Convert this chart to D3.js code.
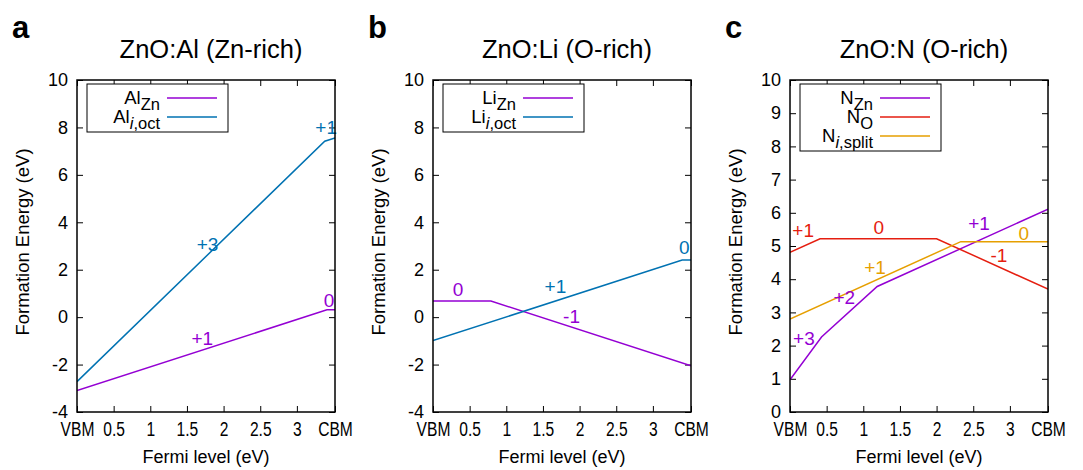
<!DOCTYPE html>
<html>
<head>
<meta charset="utf-8">
<script src="https://cdn.jsdelivr.net/npm/d3@7"></script>
<style>
  body { margin: 0; background: #fff; }
  svg { display: block; }
  text { font-family: "Liberation Sans", Arial, Helvetica, sans-serif; }
</style>
</head>
<body>
<svg id="chart" width="1083" height="470"></svg>
<script>
// ---------- data ----------
const bandGap = 3.52;
const xTickValues = [0, 0.5, 1, 1.5, 2, 2.5, 3, bandGap];
const xTickLabels = ["VBM", "0.5", "1", "1.5", "2", "2.5", "3", "CBM"];
const yTicksAB = [-4, -2, 0, 2, 4, 6, 8, 10];
const yTicksC = [0, 1, 2, 3, 4, 5, 6, 7, 8, 9, 10];

const panelLetters = ["a", "b", "c"];
const panelTitles = ["ZnO:Al (Zn-rich)", "ZnO:Li (O-rich)", "ZnO:N (O-rich)"];

// panel a: formation energies [Fermi level, E_f]
const alZn = [[0, -3.1], [3.41, 0.31], [3.52, 0.31]];
const alIOct = [[0, -2.72], [3.38, 7.42], [3.52, 7.56]];
// panel b
const liZn = [[0, 0.68], [0.79, 0.68], [3.52, -2.05]];
const liIOct = [[0, -0.99], [3.40, 2.41], [3.52, 2.41]];
// panel c
const nZn = [[0, 0.97], [0.43, 2.26], [1.19, 3.78], [3.52, 6.11]];
const nO = [[0, 4.81], [0.41, 5.22], [2.0, 5.22], [3.52, 3.70]];
const nISplit = [[0, 2.80], [2.33, 5.13], [3.52, 5.13]];

// charge-state labels [Fermi level, E_f, text, series index]
const chargeA = [[1.78, 3.09, "+3", 1], [3.40, 8.02, "+1", 1], [1.71, -0.88, "+1", 0], [3.44, 0.72, "0", 0]];
const chargeB = [[0.34, 1.19, "0", 0], [1.67, 1.31, "+1", 1], [1.89, 0.05, "-1", 0], [3.43, 2.96, "0", 1]];
const chargeC = [[0.18, 5.48, "+1", 1], [1.21, 5.57, "0", 1], [2.58, 5.69, "+1", 0], [3.19, 5.39, "0", 2],
                 [2.85, 4.72, "-1", 1], [1.16, 4.36, "+1", 2], [0.74, 3.46, "+2", 0], [0.19, 2.22, "+3", 0]];

// ---------- styles ----------
const purple = "#9400d3", blue = "#0072b2", red = "#e51e10", orange = "#e69f00";
const panels = [
  { series: [alZn, alIOct], colors: [purple, blue], legend: [["Al", "Zn", null], ["Al", "i", ",oct"]],
    charges: chargeA, yDomain: [-4, 10], yTicks: yTicksAB },
  { series: [liZn, liIOct], colors: [purple, blue], legend: [["Li", "Zn", null], ["Li", "i", ",oct"]],
    charges: chargeB, yDomain: [-4, 10], yTicks: yTicksAB },
  { series: [nZn, nO, nISplit], colors: [purple, red, orange], legend: [["N", "Zn", null], ["N", "O", null], ["N", "i", ",split"]],
    charges: chargeC, yDomain: [0, 10], yTicks: yTicksC }
];

const svg = d3.select("#chart");
const plotLefts = [77, 433, 790];
const plotW = 258, plotTop = 80, plotH = 332;
const fs = 18;

panels.forEach((p, i) => {
  const x0 = plotLefts[i];
  const x = d3.scaleLinear().domain([0, bandGap]).range([x0, x0 + plotW]);
  const y = d3.scaleLinear().domain(p.yDomain).range([plotTop + plotH, plotTop]);
  const g = svg.append("g");

  // panel letter
  g.append("text").attr("x", x0 - 65).attr("y", 38).attr("font-size", 31).attr("font-weight", "bold").text(panelLetters[i]);
  // title
  g.append("text").attr("x", x0 + plotW / 2 + 5).attr("y", 58).attr("text-anchor", "middle")
    .attr("font-size", 25.5).text(panelTitles[i]);

  // axes
  const tickFmt = (d) => xTickLabels[xTickValues.indexOf(d)];
  const bottom = g.append("g").attr("transform", `translate(0,${plotTop + plotH})`)
    .call(d3.axisBottom(x).tickValues(xTickValues).tickFormat(tickFmt).tickSizeInner(-6).tickSizeOuter(0).tickPadding(10));
  const top = g.append("g").attr("transform", `translate(0,${plotTop})`)
    .call(d3.axisTop(x).tickValues(xTickValues).tickFormat("").tickSizeInner(-6).tickSizeOuter(0));
  const left = g.append("g").attr("transform", `translate(${x0},0)`)
    .call(d3.axisLeft(y).tickValues(p.yTicks).tickFormat(d => String(d)).tickSizeInner(-6).tickSizeOuter(0).tickPadding(9));
  const right = g.append("g").attr("transform", `translate(${x0 + plotW},0)`)
    .call(d3.axisRight(y).tickValues(p.yTicks).tickFormat("").tickSizeInner(-6).tickSizeOuter(0));
  [bottom, top, left, right].forEach(a => {
    a.select(".domain").remove();
    a.selectAll(".tick line").attr("stroke", "#000").attr("stroke-width", 1);
    a.selectAll("text").attr("font-size", fs).attr("fill", "#000")
      .style("font-family", '"Liberation Sans", Arial, sans-serif');
  });
  // x tick labels are horizontally condensed in the reference
  bottom.selectAll(".tick text").attr("font-size", 19.5).attr("transform", "scale(0.8,1)");

  // axis labels
  g.append("text").attr("x", x0 + plotW / 2).attr("y", 463).attr("text-anchor", "middle")
    .attr("font-size", fs).text("Fermi level (eV)");
  g.append("text").attr("transform", `translate(${x0 - 48},${plotTop + plotH / 2 - 4}) rotate(-90)`)
    .attr("text-anchor", "middle").attr("font-size", 18.5).text("Formation Energy (eV)");

  // lines
  const clipId = "clip" + i;
  svg.append("clipPath").attr("id", clipId).append("rect")
    .attr("x", x0).attr("y", plotTop).attr("width", plotW).attr("height", plotH);
  const line = d3.line().x(d => x(d[0])).y(d => y(d[1]));
  p.series.forEach((s, k) => {
    g.append("path").datum(s).attr("d", line).attr("fill", "none")
      .attr("stroke", p.colors[k]).attr("stroke-width", 1.5).attr("clip-path", `url(#${clipId})`);
  });

  // charge labels
  p.charges.forEach(c => {
    g.append("text").attr("x", x(c[0])).attr("y", y(c[1])).attr("dy", "0.36em")
      .attr("text-anchor", "middle").attr("font-size", 19).attr("fill", p.colors[c[3]]).text(c[2]);
  });

  // frame
  g.append("rect").attr("x", x0).attr("y", plotTop).attr("width", plotW).attr("height", plotH)
    .attr("fill", "none").attr("stroke", "#000").attr("stroke-width", 1.5);

  // legend
  const n = p.legend.length;
  const lg = g.append("g");
  lg.append("rect").attr("x", x0 + 10).attr("y", plotTop + 4).attr("width", 141).attr("height", 10 + n * 19)
    .attr("fill", "#fff").attr("stroke", "#000").attr("stroke-width", 1);
  p.legend.forEach((L, k) => {
    const ly = plotTop + 18 + k * 19;
    const t = lg.append("text").attr("x", x0 + 83).attr("y", ly + 6).attr("text-anchor", "end").attr("font-size", 18.5);
    t.append("tspan").text(L[0]);
    if (L[2] === null) {
      t.append("tspan").attr("dy", 6).attr("font-size", 16.5).text(L[1]);
    } else {
      t.append("tspan").attr("dy", 6).attr("font-size", 16.5).attr("font-style", "italic").text(L[1]);
      t.append("tspan").attr("font-size", 16.5).text(L[2]);
    }
    lg.append("line").attr("x1", x0 + 90).attr("x2", x0 + 140).attr("y1", ly).attr("y2", ly)
      .attr("stroke", p.colors[k]).attr("stroke-width", 1.5);
  });
});
</script>
</body>
</html>
